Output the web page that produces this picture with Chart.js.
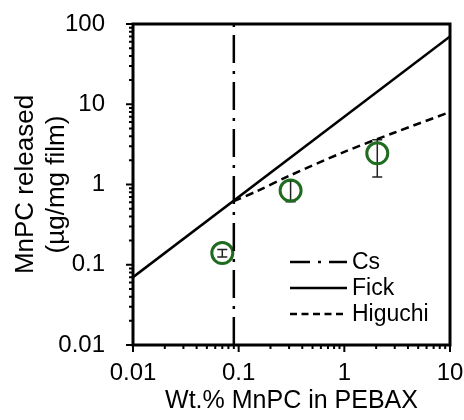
<!DOCTYPE html>
<html>
<head>
<meta charset="utf-8">
<script src="https://cdn.jsdelivr.net/npm/chart.js@4.4.0/dist/chart.umd.min.js"></script>
<style>
  html, body { margin: 0; padding: 0; background: #fff; }
</style>
</head>
<body>
<canvas id="c" width="464" height="420"></canvas>
<script>
// données
const csX = [0.09, 0.09];
const csY = [0.01, 100];
const fickX = [0.01, 10];
const fickY = [0.07, 70];
const higX = [0.09, 0.15, 0.3, 1, 3, 10];
const higY = [0.62, 0.83, 1.28, 2.55, 4.45, 8.0];
const expX = [0.07, 0.31, 2.05];
const expY = [0.14, 0.84, 2.45];
const expLow = [0.125, 0.61, 1.24];
const expHigh = [0.155, 1.1, 3.6];
const xTicks = [0.01, 0.1, 1, 10];
const yTicks = [0.01, 0.1, 1, 10, 100];

const FONT = "'Liberation Sans', Arial, sans-serif";
const green = '#1f6b1f';

function pts(xs, ys) {
  return xs.map((x, i) => ({ x: x, y: ys[i] }));
}

// barres d'erreur + cadre + graduations + légende
const extras = {
  id: 'extras',
  beforeDatasetsDraw(chart) {
    const ctx = chart.ctx;
    const xs = chart.scales.x, ys = chart.scales.y;
    ctx.save();
    ctx.strokeStyle = '#222';
    ctx.lineWidth = 1.5;
    expX.forEach((x, i) => {
      const px = xs.getPixelForValue(x);
      const lo = ys.getPixelForValue(expLow[i]);
      const hi = ys.getPixelForValue(expHigh[i]);
      ctx.beginPath();
      ctx.moveTo(px, lo); ctx.lineTo(px, hi);
      ctx.moveTo(px - 5, lo); ctx.lineTo(px + 5, lo);
      ctx.moveTo(px - 5, hi); ctx.lineTo(px + 5, hi);
      ctx.stroke();
    });
    ctx.restore();
  },
  afterDraw(chart) {
    const ctx = chart.ctx;
    const a = chart.chartArea;
    const xs = chart.scales.x, ys = chart.scales.y;
    ctx.save();
    ctx.strokeStyle = '#000';
    ctx.lineWidth = 3;
    ctx.strokeRect(a.left, a.top, a.right - a.left, a.bottom - a.top);

    // graduations x
    ctx.lineWidth = 2;
    ctx.beginPath();
    for (let d = 0.01; d < 10; d *= 10) {
      for (let k = 1; k <= 10; k++) {
        const px = xs.getPixelForValue(d * k);
        const len = (k === 1 || k === 10) ? 7 : 4;
        ctx.moveTo(px, a.bottom); ctx.lineTo(px, a.bottom + len);
      }
    }
    // graduations y
    for (let d = 0.01; d < 100; d *= 10) {
      for (let k = 1; k <= 10; k++) {
        const py = ys.getPixelForValue(d * k);
        const len = (k === 1 || k === 10) ? 7 : 4;
        ctx.moveTo(a.left, py); ctx.lineTo(a.left - len, py);
      }
    }
    ctx.stroke();

    // légende
    const items = [
      { label: 'Cs', dash: [20, 8, 3, 8] },
      { label: 'Fick', dash: [] },
      { label: 'Higuchi', dash: [7, 4.5] }
    ];
    ctx.font = '23px ' + FONT;
    ctx.fillStyle = '#000';
    ctx.textBaseline = 'middle';
    items.forEach((it, i) => {
      const y = 262 + i * 26;
      ctx.setLineDash(it.dash);
      ctx.lineWidth = 2.5;
      ctx.beginPath();
      ctx.moveTo(290, y); ctx.lineTo(347, y);
      ctx.stroke();
      ctx.setLineDash([]);
      ctx.fillText(it.label, 352, y + 1);
    });
    ctx.restore();
  }
};

new Chart(document.getElementById('c'), {
  type: 'scatter',
  data: {
    datasets: [
      {
        label: 'Cs', data: pts(csX, csY), showLine: true, pointRadius: 0,
        borderColor: '#000', borderWidth: 2.5, borderDash: [28, 8, 3, 8]
      },
      {
        label: 'Fick', data: pts(fickX, fickY), showLine: true, pointRadius: 0,
        borderColor: '#000', borderWidth: 2.5
      },
      {
        label: 'Higuchi', data: pts(higX, higY), showLine: true, pointRadius: 0,
        borderColor: '#000', borderWidth: 2.5, borderDash: [8, 5], tension: 0.3
      },
      {
        label: 'exp', data: pts(expX, expY), showLine: false,
        pointRadius: 10.5, pointBorderWidth: 3, pointBorderColor: green,
        pointBackgroundColor: 'rgba(0,0,0,0)'
      }
    ]
  },
  options: {
    responsive: false,
    animation: false,
    devicePixelRatio: 1,
    layout: { padding: { top: 24, right: 14, left: 0, bottom: 0 } },
    plugins: { legend: { display: false }, tooltip: { enabled: false } },
    scales: {
      x: {
        type: 'logarithmic', min: 0.01, max: 10,
        grid: { display: false }, border: { display: false },
        afterBuildTicks: s => { s.ticks = xTicks.map(v => ({ value: v })); },
        afterFit: s => { s.height = 75; s.paddingLeft = 0; s.paddingRight = 0; },
        ticks: {
          color: '#000', font: { family: FONT, size: 24 }, padding: 6,
          autoSkip: false, maxRotation: 0,
          callback: v => String(v)
        },
        title: {
          display: true, text: 'Wt.% MnPC in PEBAX', color: '#000',
          font: { family: FONT, size: 25 }, padding: { top: 4 }
        }
      },
      y: {
        type: 'logarithmic', min: 0.01, max: 100,
        grid: { display: false }, border: { display: false },
        afterBuildTicks: s => { s.ticks = yTicks.map(v => ({ value: v })); },
        afterFit: s => { s.width = 133; s.paddingTop = 0; s.paddingBottom = 0; },
        ticks: {
          color: '#000', font: { family: FONT, size: 24 }, padding: 20,
          autoSkip: false,
          callback: v => String(v)
        },
        title: {
          display: true, text: ['MnPC released', '(µg/mg film)'], color: '#000',
          font: { family: FONT, size: 26, lineHeight: 1.2 }, padding: { top: 10, bottom: 0 }
        }
      }
    }
  },
  plugins: [extras]
});
</script>
</body>
</html>
